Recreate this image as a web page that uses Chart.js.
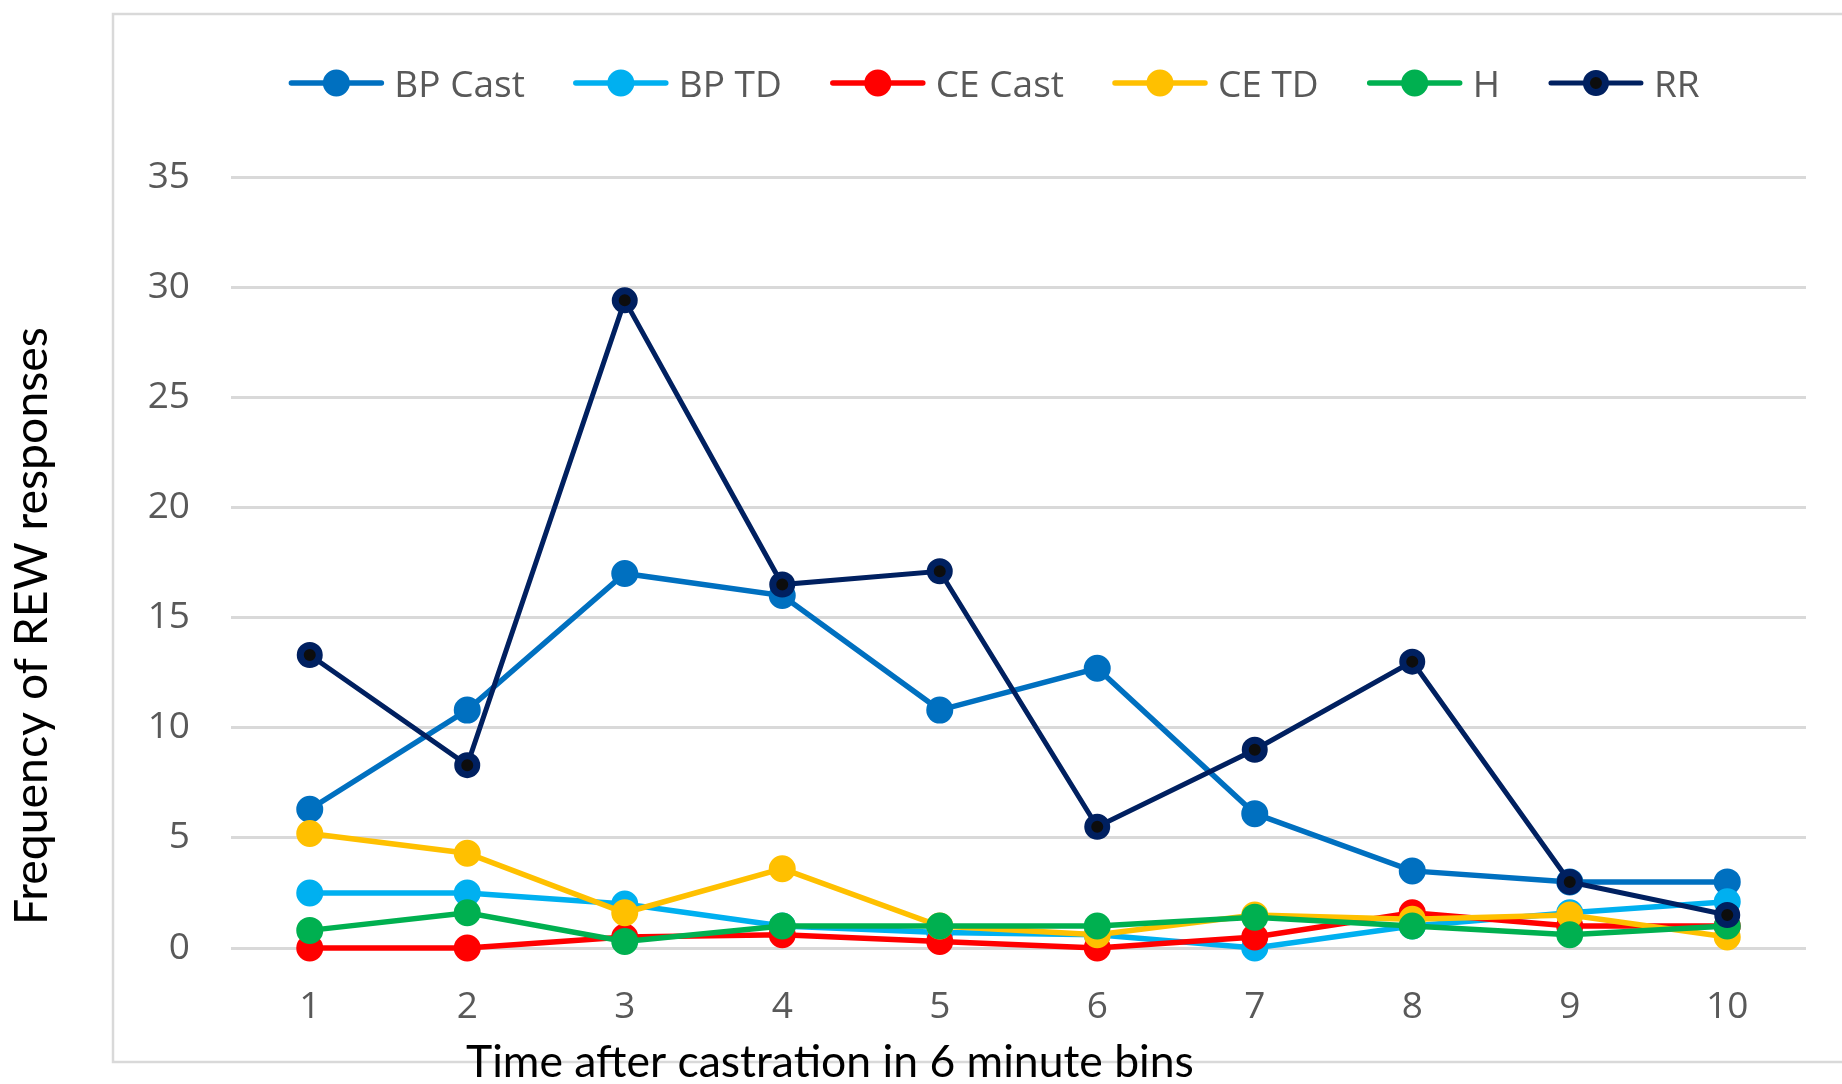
<!DOCTYPE html>
<html>
<head>
<meta charset="utf-8">
<title>Frequency of REW responses</title>
<script src="https://cdn.jsdelivr.net/npm/chart.js@4.4.1/dist/chart.umd.min.js"></script>
<style>
  html, body { margin: 0; padding: 0; background: #ffffff; overflow: hidden; }
  canvas { display: block; }
</style>
</head>
<body>
<canvas id="chart" width="1842" height="1084"></canvas>
<script>
// Time bins (6 minutes each) after castration
const categories = ['1', '2', '3', '4', '5', '6', '7', '8', '9', '10'];

// Frequency of REW responses per group
const bpCast  = [6.3, 10.8, 17.0, 16.0, 10.8, 12.7, 6.1, 3.5, 3.0, 3.0];
const bpTD    = [2.5, 2.5, 2.0, 1.0, 0.7, 0.6, 0.0, 1.0, 1.6, 2.1];
const ceCast  = [0.0, 0.0, 0.5, 0.6, 0.3, 0.0, 0.5, 1.6, 1.0, 1.0];
const ceTD    = [5.2, 4.3, 1.6, 3.6, 1.0, 0.6, 1.5, 1.3, 1.5, 0.5];
const hGroup  = [0.8, 1.6, 0.3, 1.0, 1.0, 1.0, 1.4, 1.0, 0.6, 1.0];
const rrGroup = [13.3, 8.3, 29.4, 16.5, 17.1, 5.5, 9.0, 13.0, 3.0, 1.5];

const seriesNames = ['BP Cast', 'BP TD', 'CE Cast', 'CE TD', 'H', 'RR'];
const seriesValues = [bpCast, bpTD, ceCast, ceTD, hGroup, rrGroup];

// Value axis range and tick step
const yMin = 0;
const yMax = 35;
const yStep = 5;

const xTitle = 'Time after castration in 6 minute bins';
const yTitle = 'Frequency of REW responses';

// Series styling
const lineColors  = ['#0070C0', '#00B0F0', '#FF0000', '#FFC000', '#00B050', '#002060'];
const pointFills  = ['#0070C0', '#00B0F0', '#FF0000', '#FFC000', '#00B050', '#0D0D0D'];

const TICK_FONT = '"Open Sans", "Noto Sans", sans-serif';
const TITLE_FONT = 'Lato, "Open Sans", sans-serif';
const GRID = '#D9D9D9';
const TEXT_GRAY = '#595959';

function buildDatasets() {
  return seriesNames.map((name, i) => {
    const isRR = name === 'RR';
    return {
      label: name,
      data: seriesValues[i],
      borderColor: lineColors[i],
      backgroundColor: lineColors[i],
      borderWidth: isRR ? 5 : 5.5,
      pointRadius: isRR ? 9.5 : 12,
      pointBorderWidth: isRR ? 7 : 3,
      pointBackgroundColor: pointFills[i],
      pointBorderColor: lineColors[i],
      pointHoverRadius: isRR ? 9.5 : 12,
      tension: 0,
      clip: false,
      order: seriesNames.length - i
    };
  });
}

// Light frame around the plot, open on the right edge
const framePlugin = {
  id: 'frame',
  beforeDraw(chart) {
    const ctx = chart.ctx;
    ctx.save();
    ctx.strokeStyle = GRID;
    ctx.lineWidth = 2.5;
    ctx.beginPath();
    ctx.moveTo(1850, 14);
    ctx.lineTo(113, 14);
    ctx.lineTo(113, 1062);
    ctx.lineTo(1850, 1062);
    ctx.stroke();
    ctx.restore();
  }
};

// Legend drawn as line-with-marker swatches followed by the series name
const lineLegendPlugin = {
  id: 'lineLegend',
  afterDraw(chart) {
    const ctx = chart.ctx;
    const sets = chart.data.datasets;
    const symW = 96, gapText = 10, gapItem = 48, cy = 83, baseline = 97;
    ctx.save();
    ctx.font = '37px ' + TICK_FONT;
    const widths = sets.map(d => ctx.measureText(d.label).width);
    const total = sets.length * (symW + gapText) + (sets.length - 1) * gapItem +
      widths.reduce((a, b) => a + b, 0);
    let x = 994 - total / 2;
    sets.forEach((d, i) => {
      ctx.strokeStyle = d.borderColor;
      ctx.lineWidth = d.borderWidth;
      ctx.lineCap = 'round';
      ctx.beginPath();
      ctx.moveTo(x + 3, cy);
      ctx.lineTo(x + symW - 3, cy);
      ctx.stroke();
      ctx.beginPath();
      ctx.arc(x + symW / 2, cy, d.pointRadius, 0, Math.PI * 2);
      ctx.fillStyle = d.pointBackgroundColor;
      ctx.fill();
      ctx.lineWidth = d.pointBorderWidth;
      ctx.strokeStyle = d.pointBorderColor;
      ctx.stroke();
      ctx.fillStyle = TEXT_GRAY;
      ctx.textAlign = 'left';
      ctx.textBaseline = 'alphabetic';
      ctx.fillText(d.label, x + symW + gapText, baseline);
      x += symW + gapText + widths[i] + gapItem;
    });
    ctx.restore();
  }
};

// Axis titles
const axisTitlesPlugin = {
  id: 'axisTitles',
  afterDraw(chart) {
    const ctx = chart.ctx;
    ctx.save();
    ctx.fillStyle = '#000000';
    ctx.textBaseline = 'alphabetic';

    ctx.font = '100px ' + TITLE_FONT;
    const xSize = 100 * 728 / ctx.measureText(xTitle).width;
    ctx.font = xSize.toFixed(2) + 'px ' + TITLE_FONT;
    ctx.textAlign = 'left';
    ctx.fillText(xTitle, 466, 1077);

    ctx.font = '100px ' + TITLE_FONT;
    const ySize = 100 * 598 / ctx.measureText(yTitle).width;
    ctx.font = ySize.toFixed(2) + 'px ' + TITLE_FONT;
    ctx.translate(47, 626);
    ctx.rotate(-Math.PI / 2);
    ctx.textAlign = 'center';
    ctx.fillText(yTitle, 0, 0);
    ctx.restore();
  }
};

function draw() {
  new Chart(document.getElementById('chart'), {
    type: 'line',
    data: { labels: categories, datasets: buildDatasets() },
    plugins: [framePlugin, lineLegendPlugin, axisTitlesPlugin],
    options: {
      responsive: false,
      animation: false,
      devicePixelRatio: 1,
      events: [],
      layout: { padding: { top: 177, right: 36, bottom: 0, left: 0 } },
      plugins: {
        legend: { display: false },
        tooltip: { enabled: false },
        title: { display: false }
      },
      scales: {
        x: {
          type: 'category',
          offset: true,
          grid: { display: false, drawTicks: false },
          border: { display: false },
          ticks: {
            color: TEXT_GRAY,
            font: { family: TICK_FONT, size: 37 },
            padding: 37,
            maxRotation: 0,
            autoSkip: false
          },
          afterFit(scale) { scale.height = 136; }
        },
        y: {
          min: yMin,
          max: yMax,
          grid: { color: GRID, lineWidth: 3, drawTicks: false },
          border: { display: false },
          ticks: {
            stepSize: yStep,
            color: TEXT_GRAY,
            font: { family: TICK_FONT, size: 37 },
            padding: 41
          },
          afterFit(scale) { scale.width = 231; }
        }
      }
    }
  });
}

const fontLoads = [
  document.fonts.load('37px "Open Sans"'),
  document.fonts.load('40px Lato')
];
Promise.all(fontLoads).then(draw, draw);
</script>
</body>
</html>
